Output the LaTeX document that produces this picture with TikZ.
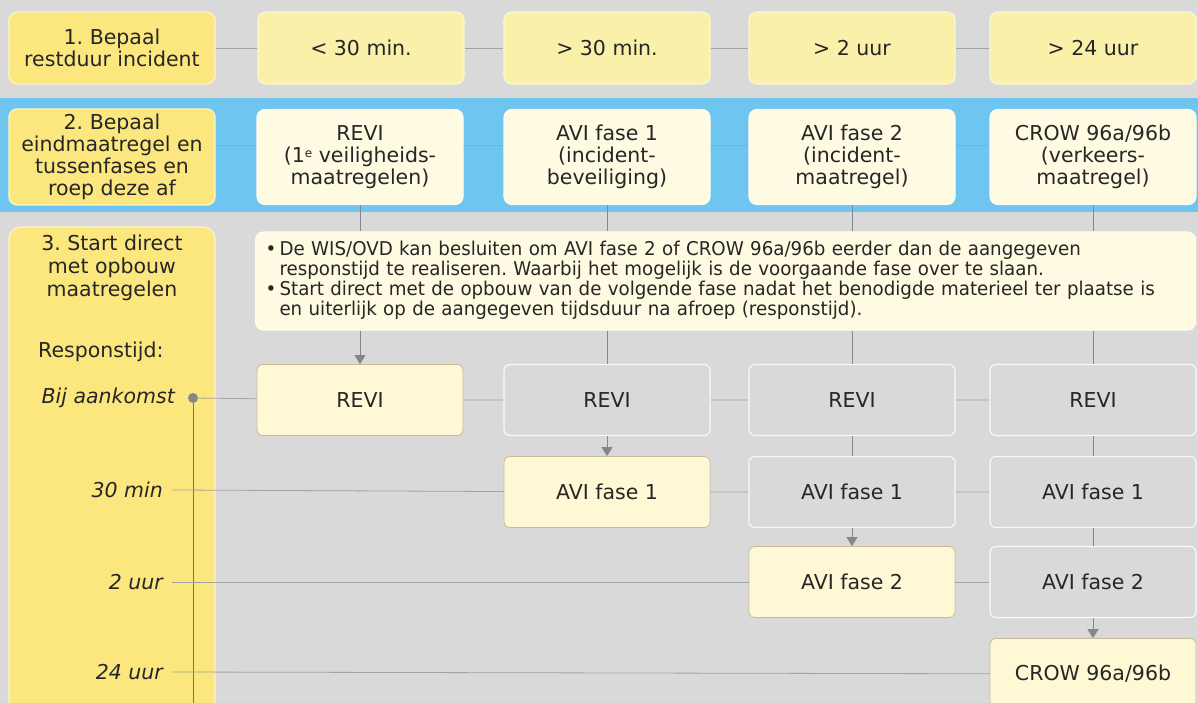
\documentclass[tikz,border=0pt]{standalone}
\usepackage{fontspec}
\setmainfont{DejaVu Sans}
\newfontfamily\notefont[FakeStretch=0.96]{DejaVu Sans}
\usetikzlibrary{arrows.meta}
\definecolor{bggrey}{HTML}{D9D9D9}
\definecolor{bandblue}{HTML}{6EC6F0}
\definecolor{hdyellow}{HTML}{FCE77E}
\definecolor{tyellow}{HTML}{FAF0A9}
\definecolor{cream}{HTML}{FFFBE2}
\definecolor{actyellow}{HTML}{FFF8D5}
\definecolor{acttan}{HTML}{C8BC98}
\definecolor{linegrey}{HTML}{A3A3A3}
\definecolor{arrowgrey}{HTML}{868686}
\definecolor{txt}{HTML}{262626}

\begin{document}
\frenchspacing
\begin{tikzpicture}[x=1pt,y=-1pt,
  every node/.style={font=\fontsize{20.5}{22}\selectfont,text=txt,align=center,inner sep=0pt},
  hdbox/.style={rectangle,rounded corners=8pt,fill=hdyellow,draw=white!55!hdyellow,line width=1.2pt,minimum width=206pt},
  timebox/.style={rectangle,rounded corners=8pt,fill=tyellow,draw=white!50!tyellow,line width=1.2pt,minimum width=206pt,minimum height=72pt},
  endbox/.style={rectangle,rounded corners=8pt,fill=cream,draw=white!50!cream,line width=1.2pt,minimum width=206pt,minimum height=95pt},
  stepbox/.style={rectangle,rounded corners=6pt,fill=actyellow,draw=acttan,line width=0.8pt,minimum width=206pt,minimum height=71pt},
  ghostbox/.style={rectangle,rounded corners=6pt,fill=bggrey,draw=white!85!bggrey,line width=1.2pt,minimum width=206pt,minimum height=71pt},
  timelabel/.style={anchor=east,font=\fontsize{20.5}{22}\selectfont\itshape},
  rowline/.style={draw=linegrey,line width=0.8pt},
  colline/.style={draw=arrowgrey,line width=1pt},
  >={Triangle[width=11pt,length=9pt]}]
\useasboundingbox (0,0) rectangle (1198,703);
\clip (0,0) rectangle (1198,703);
\fill[bggrey] (0,0) rectangle (1198,703);
\fill[bandblue] (0,98) rectangle (1198,212);

\path (112,48) node[hdbox,minimum height=72pt] (h1) {1. Bepaal\\restduur incident};
\path (361,48) node[timebox] (t1) {< 30 min.};
\path (607,48) node[timebox] (t2) {> 30 min.};
\path (852,48) node[timebox] (t3) {> 2 uur};
\path (1093,48) node[timebox] (t4) {> 24 uur};

\path (112,157) node[hdbox,minimum height=96pt] (h2) {2. Bepaal\\eindmaatregel en\\tussenfases en\\roep deze af};
\path (360,157) node[endbox] (e1) {REVI\\(1\raisebox{5pt}{\fontsize{12}{12}\selectfont e} veiligheids-\\maatregelen)};
\path (607,157) node[endbox] (e2) {AVI fase 1\\(incident-\\beveiliging)};
\path (852,157) node[endbox] (e3) {AVI fase 2\\(incident-\\maatregel)};
\path (1093,157) node[endbox] (e4) {CROW 96a/96b\\(verkeers-\\maatregel)};

\path (112,470) node[hdbox,rounded corners=12pt,minimum height=486pt] (h3) {};
\path (112,268) node[font=\fontsize{20.5}{23}\selectfont] (h3txt) {3. Start direct\\met opbouw\\maatregelen};
\path (38,352) node[anchor=west] (resp) {Responstijd:};
\path (175,398) node[timelabel] (l0) {Bij aankomst};
\path (193,398) node[circle,fill=arrowgrey,minimum size=10pt] (dot) {};
\path (163,490) node[timelabel] (l1) {30 min};
\path (163,582) node[timelabel] (l2) {2 uur};
\path (163,672) node[timelabel] (l3) {24 uur};
\coordinate (k1) at (172,490);
\coordinate (k2) at (172,582);
\coordinate (k3) at (172,672);
\coordinate (tend) at (193,712);

\path (255,281) node[anchor=west,rectangle,rounded corners=8pt,fill=cream,draw=white!50!cream,line width=1.2pt,
  minimum height=98pt,text width=920pt,inner xsep=10pt,align=left,font=\notefont\fontsize{19}{19}\selectfont] (note)
  {\begin{tabular}{@{}l@{\,}l@{}}
  \textbullet & De WIS/OVD kan besluiten om AVI fase 2 of CROW 96a/96b eerder dan de aangegeven\\
  & responstijd te realiseren. Waarbij het mogelijk is de voorgaande fase over te slaan.\\
  \textbullet & Start direct met de opbouw van de volgende fase nadat het benodigde materieel ter plaatse is\\
  & en uiterlijk op de aangegeven tijdsduur na afroep (responstijd).
  \end{tabular}};

\path (360,400) node[stepbox] (revi1) {REVI};
\path (607,400) node[ghostbox] (revi2) {REVI};
\path (852,400) node[ghostbox] (revi3) {REVI};
\path (1093,400) node[ghostbox] (revi4) {REVI};
\path (607,492) node[stepbox] (avi1b) {AVI fase 1};
\path (852,492) node[ghostbox] (avi1c) {AVI fase 1};
\path (1093,492) node[ghostbox] (avi1d) {AVI fase 1};
\path (852,582) node[stepbox] (avi2c) {AVI fase 2};
\path (1093,582) node[ghostbox] (avi2d) {AVI fase 2};
\path (1093,674) node[stepbox] (crow) {CROW 96a/96b};

\draw[rowline] (h1) -- (t1) -- (t2) -- (t3) -- (t4);
\foreach \a/\b in {h2/e1,e1/e2,e2/e3,e3/e4}
  \draw[rowline] ([yshift=12pt]\a.east) -- ([yshift=12pt]\b.west);
\foreach \e in {e1,e2,e3,e4}
  \draw[colline] (\e.south) -- (\e.south |- note.north);
\draw[colline,->] (e1.south |- note.south) -- (revi1.north);
\draw[colline] (e2.south |- note.south) -- (revi2.north);
\draw[colline] (e3.south |- note.south) -- (revi3.north);
\draw[colline] (e4.south |- note.south) -- (revi4.north);
\draw[colline,->] (revi2) -- (avi1b);
\draw[colline] (revi3) -- (avi1c);
\draw[colline,->] (avi1c) -- (avi2c);
\draw[colline] (revi4) -- (avi1d);
\draw[colline] (avi1d) -- (avi2d);
\draw[colline,->] (avi2d) -- (crow);

\draw[colline,draw=black!55] (dot) -- (tend);
\draw[rowline] (dot) -- (revi1) -- (revi2) -- (revi3) -- (revi4);
\draw[rowline] (k1) -- (avi1b) -- (avi1c) -- (avi1d);
\draw[rowline] (k2) -- (avi2c) -- (avi2d);
\draw[rowline] (k3) -- (crow);
\end{tikzpicture}
\end{document}
